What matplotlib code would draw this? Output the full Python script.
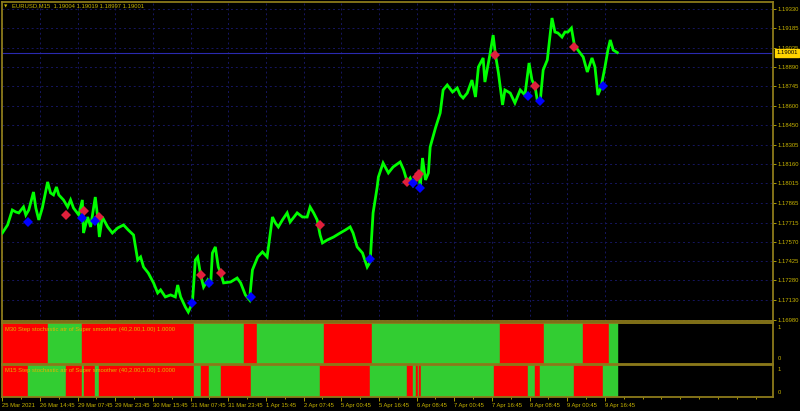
import matplotlib
matplotlib.use('Agg')
import matplotlib.pyplot as plt
import matplotlib.transforms as mtrans
import numpy as np

# EURUSD M15, x = bar number counted from 25 Mar 2021 00:00
bar = [0, 9, 17, 23, 28, 36, 40, 45, 53, 57, 62, 68, 77, 82, 87, 92, 96, 104, 111, 116,
       121, 130, 136, 138, 145, 150, 158, 162, 165, 170, 179, 187, 196, 206, 214, 223, 230, 235, 240, 248,
       257, 264, 269, 277, 286, 294, 298, 303, 311, 316, 323, 328, 332, 337, 342, 349, 354, 357, 362, 367,
       371, 376, 388, 399, 405, 413, 420, 425, 434, 442, 450, 459, 464, 469, 476, 484, 489, 501, 510, 518,
       523, 529, 535, 540, 544, 552, 563, 574, 583, 591, 596, 603, 612, 620, 625, 630, 637, 639, 647, 656,
       664, 676, 682, 688, 693, 698, 705, 708, 710, 714, 719, 724, 727, 736, 744, 749, 756, 765, 773, 778,
       783, 790, 798, 804, 809, 817, 820, 829, 834, 838, 843, 850, 854, 863, 871, 880, 888, 895, 900, 905,
       909, 914, 919, 926, 934, 939, 944, 951, 956, 961, 967, 972, 978, 987, 994, 1002, 1007, 1012, 1017, 1024,
       1029, 1033, 1038, 1045]
close = [1.17637, 1.17698, 1.17811, 1.17796, 1.17789, 1.17834, 1.17773, 1.17811, 1.17947, 1.17826,
         1.17736, 1.17826, 1.18023, 1.17940, 1.17925, 1.17985, 1.17925, 1.17887, 1.17834, 1.17887,
         1.17826, 1.17773, 1.17887, 1.17637, 1.17758, 1.17683, 1.17909, 1.17758, 1.17607, 1.17758,
         1.17683, 1.17637, 1.17675, 1.17698, 1.17660, 1.17622, 1.17433, 1.17456, 1.17380, 1.17335,
         1.17260, 1.17184, 1.17207, 1.17154, 1.17169, 1.17154, 1.17244, 1.17154, 1.17078, 1.17040,
         1.17108, 1.17433, 1.17456, 1.17320, 1.17229, 1.17282, 1.17244, 1.17486, 1.17532, 1.17380,
         1.17335, 1.17260, 1.17267, 1.17297, 1.17260, 1.17169, 1.17131, 1.17358, 1.17456, 1.17494,
         1.17456, 1.17758, 1.17713, 1.17683, 1.17736, 1.17789, 1.17720, 1.17789, 1.17758, 1.17758,
         1.17834, 1.17789, 1.17736, 1.17622, 1.17562, 1.17584, 1.17607, 1.17637, 1.17660, 1.17683,
         1.17637, 1.17532, 1.17486, 1.17380, 1.17418, 1.17789, 1.17985, 1.18060, 1.18166, 1.18091,
         1.18136, 1.18174, 1.18113, 1.18023, 1.18053, 1.18000, 1.18060, 1.18098, 1.17977, 1.18204,
         1.18038, 1.18091, 1.18287, 1.18431, 1.18544, 1.18718, 1.18756, 1.18703, 1.18733, 1.18680,
         1.18657, 1.18695, 1.18793, 1.18665, 1.18892, 1.18960, 1.18778, 1.18998, 1.19133, 1.18982,
         1.18846, 1.18605, 1.18718, 1.18695, 1.18620, 1.18718, 1.18680, 1.18922, 1.18793, 1.18748,
         1.18642, 1.18635, 1.18869, 1.18945, 1.19262, 1.19156, 1.19149, 1.19118, 1.19156, 1.19156,
         1.19186, 1.19058, 1.19020, 1.18967, 1.18854, 1.18960, 1.18892, 1.18680, 1.18733, 1.18892,
         1.19020, 1.19096, 1.19020, 1.19001]

sell_bar = [109, 138, 165, 337, 371, 539, 688, 705, 708, 838, 905, 972]
sell_price = [1.17773, 1.17804, 1.17758, 1.17320, 1.17335, 1.17698, 1.18023, 1.18060, 1.18083,
              1.18982, 1.18748, 1.19043]
buy_bar = [43, 135, 157, 323, 352, 422, 625, 698, 710, 893, 914, 1021]
buy_price = [1.17720, 1.17751, 1.17728, 1.17108, 1.17260, 1.17154, 1.17441, 1.18015, 1.17977,
             1.18673, 1.18635, 1.18748]

# state switches of the two step stochastic panels (first block red, then alternating)
m30_edges = [0, 77, 136, 325, 410, 432, 546, 629, 845, 921, 987, 1030, 1046]
m15_edges = [0, 43, 109, 136, 138, 157, 165, 325, 337, 352, 371, 422, 539, 625, 688, 698, 703,
             707, 708, 712, 836, 893, 905, 914, 972, 1021, 1046]

price_ticks = [1.19330, 1.19185, 1.19035, 1.18890, 1.18745, 1.18600, 1.18450, 1.18305, 1.18160,
               1.18015, 1.17865, 1.17715, 1.17570, 1.17425, 1.17280, 1.17130, 1.16980]
time_labels = ['25 Mar 2021', '26 Mar 14:45', '29 Mar 07:45', '29 Mar 23:45', '30 Mar 15:45',
               '31 Mar 07:45', '31 Mar 23:45', '1 Apr 15:45', '2 Apr 07:45', '5 Apr 00:45',
               '5 Apr 16:45', '6 Apr 08:45', '7 Apr 00:45', '7 Apr 16:45', '8 Apr 08:45',
               '9 Apr 00:45', '9 Apr 16:45']
last_price = 1.19001

BG = '#000000'
FRAME = '#8c7a1a'
TXT = '#c8b400'
GRID = '#161660'
RED = '#ff0000'
GREEN = '#32cd32'
FS = 4.2
plt.rcParams['font.family'] = ['Liberation Sans', 'DejaVu Sans']

fig = plt.figure(figsize=(8, 4.11), dpi=100, facecolor=BG)
W, H = 800.0, 411.0
x0, x1 = 2 / W, 773 / W
ax = fig.add_axes([x0, 1 - 321 / H, x1 - x0, 319 / H])
ax1 = fig.add_axes([x0, 1 - 363.5 / H, x1 - x0, 41 / H], sharex=ax)
ax2 = fig.add_axes([x0, 1 - 397 / H, x1 - x0, 32.5 / H], sharex=ax)

for a in (ax, ax1, ax2):
    a.set_facecolor(BG)
    for s in a.spines.values():
        s.set_color(FRAME)
        s.set_linewidth(1.3)
    a.tick_params(colors=TXT, labelsize=FS, length=2.5, width=0.6, pad=1)

xmax = 1309.5
ax.set_xlim(-0.5, xmax)

# main price panel
ax.set_ylim(1.16972, 1.19383)
ax.yaxis.tick_right()
ax.set_yticks(price_ticks)
ax.set_yticklabels(['%.5f' % p for p in price_ticks])
ax.set_xticks(np.arange(0, xmax, 64))
ax.tick_params(axis='x', length=0, labelbottom=False)
ax.grid(True, color=GRID, linestyle=(0, (2, 3)), linewidth=0.7)
ax.set_axisbelow(True)

ax.axhline(last_price, color='#2a2ab0', linewidth=0.8, zorder=1)
ax.plot(bar, close, color='#00ff00', linewidth=2.0, zorder=3, solid_joinstyle='miter')
ax.plot(sell_bar, sell_price, 'D', color='#e0203c', markersize=5.2, markeredgewidth=0, zorder=4)
ax.plot(buy_bar, buy_price, 'D', color='#0000ff', markersize=5.2, markeredgewidth=0, zorder=4)

tr = mtrans.blended_transform_factory(ax.transAxes, ax.transData)
ax.text(1.004, last_price, '%.5f' % last_price, transform=tr, fontsize=FS,
        color='#000000', va='center', ha='left', zorder=6, clip_on=False,
        bbox=dict(boxstyle='square,pad=0.25', facecolor='#ffd400', edgecolor='#ffd400'))

ax.text(0.003, 0.993, '\u25bc', transform=ax.transAxes, fontsize=3.2, color=TXT,
        va='top', ha='left', family='DejaVu Sans')
ax.text(0.013, 0.995, 'EURUSD,M15  1.19004 1.19019 1.18997 1.19001', transform=ax.transAxes,
        fontsize=FS, color=TXT, va='top', ha='left')


def draw_steps(a, edges, name):
    left = edges[:-1]
    width = np.diff(edges)
    cols = [RED if i % 2 == 0 else GREEN for i in range(len(left))]
    a.bar(left, [1] * len(left), width=width, bottom=0, align='edge', color=cols,
          edgecolor=cols, linewidth=0.3)
    a.set_ylim(0, 1)
    a.set_yticks([])
    a.text(1.006, 0.93, '1', transform=a.transAxes, fontsize=FS, color=TXT, va='top', ha='left')
    a.text(1.006, 0.07, '0', transform=a.transAxes, fontsize=FS, color=TXT, va='bottom', ha='left')
    a.text(0.004, 0.9, name + ' Step stochastic atr of Super smoother (40,2.00,1.00) 1.0000',
           transform=a.transAxes, fontsize=FS, color='#e0b400', va='top', ha='left')


draw_steps(ax1, m30_edges, 'M30')
draw_steps(ax2, m15_edges, 'M15')
ax1.tick_params(axis='x', length=0, labelbottom=False)

ax2.set_xticks(np.arange(0, 64 * len(time_labels), 64))
ax2.set_xticklabels(time_labels, ha='left')
ax2.set_xticks(np.arange(32, xmax, 32), minor=True)
ax2.tick_params(axis='x', which='major', length=3, pad=1)
ax2.tick_params(axis='x', which='minor', length=1.5, color=TXT)

fig.savefig('out.png', dpi=100, facecolor=BG)
